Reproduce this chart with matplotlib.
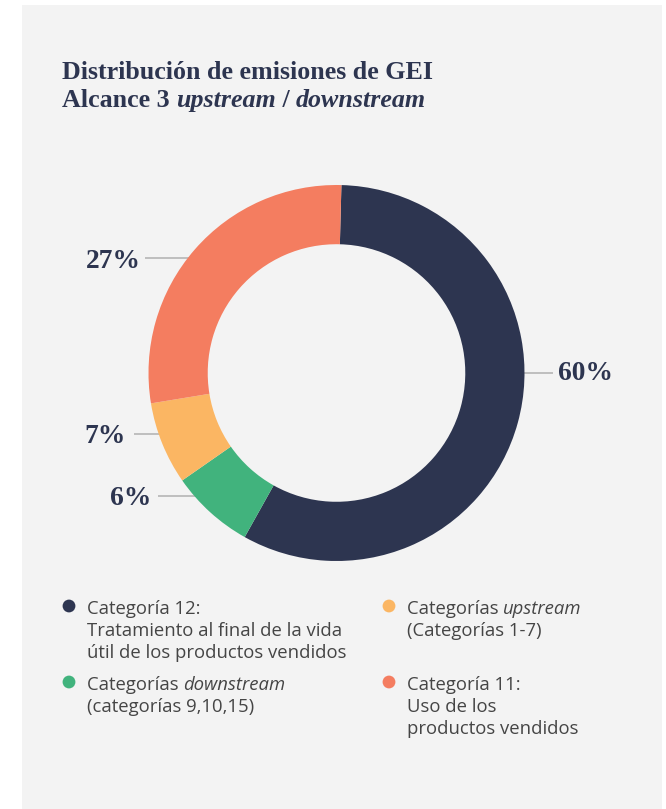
import matplotlib
matplotlib.use("Agg")
import matplotlib.pyplot as plt
from matplotlib.patches import Rectangle

# ---------------- data ----------------
categories = ["Categoría 12", "Categorías downstream", "Categorías upstream", "Categoría 11"]
# wedge shares as drawn in the picture (clockwise from top)
values = [57.7, 7.2, 7.1, 28.0]
colors = ["#2d3550", "#41b37d", "#fbb663", "#f47d60"]
pct_labels = ["60%", "6%", "7%", "27%"]

title_line1 = "Distribución de emisiones de GEI"
title_line2 = [("Alcance 3 ", "normal"), ("upstream", "italic"), (" / ", "normal"), ("downstream", "italic")]

legend_entries = [
    (0, [[("Categoría 12:", "normal")],
         [("Tratamiento al final de la vida", "normal")],
         [("útil de los productos vendidos", "normal")]]),
    (2, [[("Categorías ", "normal"), ("upstream", "italic")],
         [("(Categorías 1-7)", "normal")]]),
    (1, [[("Categorías ", "normal"), ("downstream", "italic")],
         [("(categorías 9,10,15)", "normal")]]),
    (3, [[("Categoría 11:", "normal")],
         [("Uso de los", "normal")],
         [("productos vendidos", "normal")]]),
]

# ---------------- layout ----------------
W, H = 666, 809
BG = "#f3f3f3"
NAVY = "#2d3550"
TEXT = "#454545"
SERIF = ["Liberation Serif", "DejaVu Serif"]
SANS = ["Open Sans", "DejaVu Sans"]

fig = plt.figure(figsize=(W / 100, H / 100), dpi=100)
fig.patch.set_facecolor("white")

ov = fig.add_axes([0, 0, 1, 1])
ov.set_xlim(0, W)
ov.set_ylim(H, 0)
ov.axis("off")
ov.add_patch(Rectangle((22, 5), 640, 804, facecolor=BG, edgecolor="none", zorder=0))

# donut
cx, cy, R = 336.5, 373, 188
pax = fig.add_axes([(cx - R) / W, (H - cy - R) / H, 2 * R / W, 2 * R / H])
pax.pie(values, colors=colors, startangle=88.5, counterclock=False,
        radius=1.0, wedgeprops=dict(width=0.315, edgecolor="none"))
pax.set_xlim(-1, 1)
pax.set_ylim(-1, 1)
pax.set_aspect("auto")
pax.axis("off")

fig.canvas.draw()
renderer = fig.canvas.get_renderer()


def text_width_px(t):
    return t.get_window_extent(renderer=renderer).width


def draw_segments(x, y, segs, family, size, color, weight="normal"):
    for s, style in segs:
        t = ov.text(x, y, s, fontsize=size, family=family, style=style,
                    color=color, weight=weight, ha="left", va="baseline", zorder=5)
        x += text_width_px(t)
    return x


def fit_size(s, family, weight, target, size0=12):
    t = ov.text(0, 0, s, fontsize=size0, family=family, weight=weight)
    w = text_width_px(t)
    t.remove()
    return size0 * target / w


# title
tsize = fit_size(title_line1, SERIF, "semibold", 370)
draw_segments(62, 79, [(title_line1, "normal")], SERIF, tsize, NAVY, weight="semibold")
draw_segments(62, 107, title_line2, SERIF, tsize, NAVY, weight="semibold")

# percentage labels and leader lines
label_pos = {"60%": (558, 373, "left"), "6%": (151, 498, "right"),
             "7%": (126, 436, "right"), "27%": (141, 262, "right")}
line_pos = {"60%": (497, 553, 373), "6%": (158, 228, 496),
            "7%": (134, 193, 434), "27%": (145, 212, 258)}
psize = fit_size("60%", SERIF, "bold", 55)
for lab in pct_labels:
    x0, x1, ly = line_pos[lab]
    ov.plot([x0, x1], [ly, ly], color="#b5b5b5", lw=1.2, zorder=6,
            solid_capstyle="butt")
    lx, lyy, ha = label_pos[lab]
    ov.text(lx, lyy, lab, fontsize=psize, family=SERIF, weight="bold",
            color=NAVY, ha=ha, va="center", zorder=7)

# legend
lsize = fit_size("Tratamiento al final de la vida", SANS, "normal", 254)
col_x = [69, 389]
row_y = [606, 682]
line_h = 22
for i, (ci, lines) in enumerate(legend_entries):
    col = i % 2
    row = i // 2
    dx = col_x[col]
    y0 = row_y[row]
    ov.scatter([dx], [y0], s=85, color=colors[ci], zorder=5, edgecolors="none")
    for j, segs in enumerate(lines):
        draw_segments(dx + 18, y0 + 8 + j * line_h, segs, SANS, lsize, TEXT)

fig.savefig("out.png", dpi=100, facecolor=fig.get_facecolor())
